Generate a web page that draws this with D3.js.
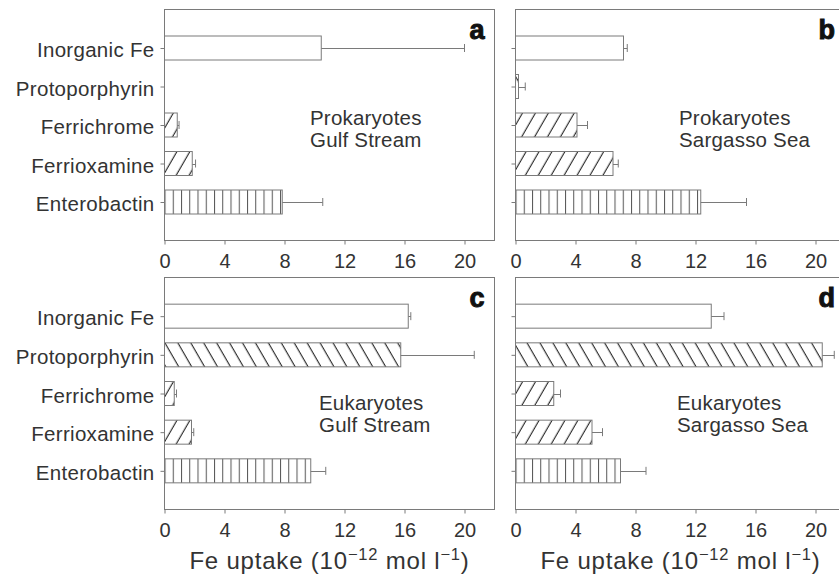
<!DOCTYPE html>
<html>
<head>
<meta charset="utf-8">
<script src="https://cdn.jsdelivr.net/npm/d3@7"></script>
<style>
	body { margin: 0; background: #fff; }
	svg text { font-family: "Liberation Sans", Arial, Helvetica, sans-serif; fill: #333; }
</style>
</head>
<body>
<div id="chart"></div>
<script>
// Fe uptake by siderophore type, four panels

// Data
var categories = ["Inorganic Fe", "Protoporphyrin", "Ferrichrome", "Ferrioxamine", "Enterobactin"];
var xTicks = [0, 4, 8, 12, 16, 20];
var panelLetters = ["a", "b", "c", "d"];
var groupNames = [
	["Prokaryotes", "Gulf Stream"],
	["Prokaryotes", "Sargasso Sea"],
	["Eukaryotes", "Gulf Stream"],
	["Eukaryotes", "Sargasso Sea"]
];

var uptakeA = [10.45, 0, 0.85, 1.85, 7.85];
var errorA  = [9.55, 0, 0.12, 0.22, 2.7];
var uptakeB = [7.2, 0.2, 4.1, 6.5, 12.35];
var errorB  = [0.25, 0.45, 0.7, 0.35, 3.05];
var uptakeC = [16.25, 15.75, 0.65, 1.8, 9.75];
var errorC  = [0.17, 4.9, 0.15, 0.15, 1.0];
var uptakeD = [13.05, 20.45, 2.55, 5.1, 7.0];
var errorD  = [0.85, 0.8, 0.45, 0.7, 1.7];

var values = [uptakeA, uptakeB, uptakeC, uptakeD];
var errors = [errorA, errorB, errorC, errorD];

// Layout of each panel (pixels)
var panels = [
	{x0: 164.5, x1: 494.5, y0: 9.5,   y1: 240.5, labels: true,  noteX: 310, noteY: 125},
	{x0: 515.5, x1: 845.5, y0: 9.5,   y1: 240.5, labels: false, noteX: 679, noteY: 125},
	{x0: 164.5, x1: 494.5, y0: 277.5, y1: 509.5, labels: true,  noteX: 319, noteY: 410},
	{x0: 515.5, x1: 845.5, y0: 277.5, y1: 509.5, labels: false, noteX: 677, noteY: 410}
];

var X_MAX = 22;
var BAR_H = 24;
var CAP = 4;
var LINE = "#7a7a7a";
var hatchFor = {
	"Inorganic Fe": null,
	"Protoporphyrin": "back",
	"Ferrichrome": "fwd",
	"Ferrioxamine": "fwd",
	"Enterobactin": "vert"
};

var W = 839, H = 575;

var svg = d3.select("#chart").append("svg")
	.attr("width", W)
	.attr("height", H);

var defs = svg.append("defs");

// Diagonal hatches: a vertical line rotated by +-30 degrees
var diag = function(id, angle) {
	var p = defs.append("pattern")
		.attr("id", id)
		.attr("patternUnits", "userSpaceOnUse")
		.attr("width", 11.2)
		.attr("height", 20)
		.attr("patternTransform", "rotate(" + angle + ")");
	p.append("rect").attr("width", 11.2).attr("height", 20).attr("fill", "#fff");
	p.append("line")
		.attr("x1", 5).attr("x2", 5)
		.attr("y1", 0).attr("y2", 20)
		.attr("stroke", "#222")
		.attr("stroke-width", 1.1);
};
diag("hatch-fwd", 30);
diag("hatch-back", -30);

panels.forEach(function(pn, i) {
	// vertical hatch aligned with the axis of this panel
	var pv = defs.append("pattern")
		.attr("id", "hatch-vert-" + i)
		.attr("patternUnits", "userSpaceOnUse")
		.attr("x", pn.x0)
		.attr("width", 8.25)
		.attr("height", 10);
	pv.append("rect").attr("width", 8.25).attr("height", 10).attr("fill", "#fff");
	pv.append("line")
		.attr("x1", 0.5).attr("x2", 0.5)
		.attr("y1", 0).attr("y2", 10)
		.attr("stroke", "#555")
		.attr("stroke-width", 1);

	var x = d3.scaleLinear().domain([0, X_MAX]).range([pn.x0, pn.x1]);
	var y = d3.scalePoint().domain(categories).range([pn.y0, pn.y1]).padding(1);

	var g = svg.append("g");

	// frame
	g.append("rect")
		.attr("x", pn.x0).attr("y", pn.y0)
		.attr("width", pn.x1 - pn.x0).attr("height", pn.y1 - pn.y0)
		.attr("fill", "none")
		.attr("stroke", LINE)
		.attr("stroke-width", 1);

	// x axis
	var xAxis = g.append("g")
		.attr("transform", "translate(0," + pn.y1 + ")")
		.call(d3.axisBottom(x).tickValues(xTicks).tickSize(4).tickPadding(9).tickFormat(d3.format("d")));
	xAxis.select(".domain").remove();
	xAxis.selectAll(".tick line").attr("stroke", LINE);
	xAxis.selectAll(".tick text")
		.attr("fill", "#333")
		.style("font-size", "20px")
		.attr("font-family", null);

	// y axis
	var yAxis = g.append("g")
		.attr("transform", "translate(" + pn.x0 + ",0)")
		.call(d3.axisLeft(y).tickSize(4).tickPadding(6)
			.tickFormat(function(d) { return pn.labels ? d : ""; }));
	yAxis.select(".domain").remove();
	yAxis.selectAll(".tick line").attr("stroke", LINE);
	yAxis.selectAll(".tick text")
		.attr("fill", "#333")
		.attr("dy", 8.5)
		.style("font-size", "20.5px")
		.style("letter-spacing", "0.3px")
		.attr("font-family", null);

	// bars
	var rows = categories.map(function(c, k) {
		return {cat: c, v: values[i][k], e: errors[i][k]};
	}).filter(function(d) { return d.v > 0; });

	g.selectAll(".bar")
		.data(rows)
		.enter()
		.append("rect")
		.attr("class", "bar")
		.attr("x", x(0))
		.attr("y", function(d) { return y(d.cat) - BAR_H / 2; })
		.attr("width", function(d) { return x(d.v) - x(0); })
		.attr("height", BAR_H)
		.attr("fill", function(d) {
			var h = hatchFor[d.cat];
			if (h == null) return "#fff";
			if (h == "vert") return "url(#hatch-vert-" + i + ")";
			return "url(#hatch-" + h + ")";
		})
		.attr("stroke", LINE)
		.attr("stroke-width", 1);

	// one-sided error bars
	var eb = rows.filter(function(d) { return d.e > 0; });
	g.selectAll(".err")
		.data(eb)
		.enter()
		.append("line")
		.attr("class", "err")
		.attr("x1", function(d) { return x(d.v); })
		.attr("x2", function(d) { return x(d.v + d.e); })
		.attr("y1", function(d) { return Math.round(y(d.cat)) + 0.5; })
		.attr("y2", function(d) { return Math.round(y(d.cat)) + 0.5; })
		.attr("stroke", LINE);
	g.selectAll(".cap")
		.data(eb)
		.enter()
		.append("line")
		.attr("class", "cap")
		.attr("x1", function(d) { return x(d.v + d.e); })
		.attr("x2", function(d) { return x(d.v + d.e); })
		.attr("y1", function(d) { return y(d.cat) - CAP; })
		.attr("y2", function(d) { return y(d.cat) + CAP; })
		.attr("stroke", LINE);

	// group note
	var note = g.append("text")
		.attr("x", pn.noteX)
		.attr("y", pn.noteY)
		.style("font-size", "20.5px")
		.style("letter-spacing", "0.2px");
	note.selectAll("tspan")
		.data(groupNames[i])
		.enter()
		.append("tspan")
		.attr("x", pn.noteX)
		.attr("dy", function(d, k) { return k == 0 ? 0 : 21.5; })
		.text(function(d) { return d; });

	// panel letter
	g.append("text")
		.attr("x", Math.min(pn.x1, 845) - 10)
		.attr("y", pn.y0 + 29)
		.attr("text-anchor", "end")
		.style("font-size", "27px")
		.style("font-weight", "bold")
		.style("fill", "#111")
		.style("stroke", "#111")
		.style("stroke-width", "1px")
		.text(panelLetters[i]);

	// x axis title under the bottom panels
	if (pn.y0 > 200) {
		var t = g.append("text")
			.attr("x", (pn.x0 + pn.x1) / 2)
			.attr("y", 569)
			.attr("text-anchor", "middle")
			.style("font-size", "24px")
			.style("letter-spacing", "0.8px");
		t.append("tspan").text("Fe uptake (10");
		t.append("tspan").attr("dy", -9).style("font-size", "16.5px").text("\u221212");
		t.append("tspan").attr("dy", 9).text(" mol l");
		t.append("tspan").attr("dy", -9).style("font-size", "16.5px").text("\u22121");
		t.append("tspan").attr("dy", 9).text(")");
	}
});
</script>
</body>
</html>
